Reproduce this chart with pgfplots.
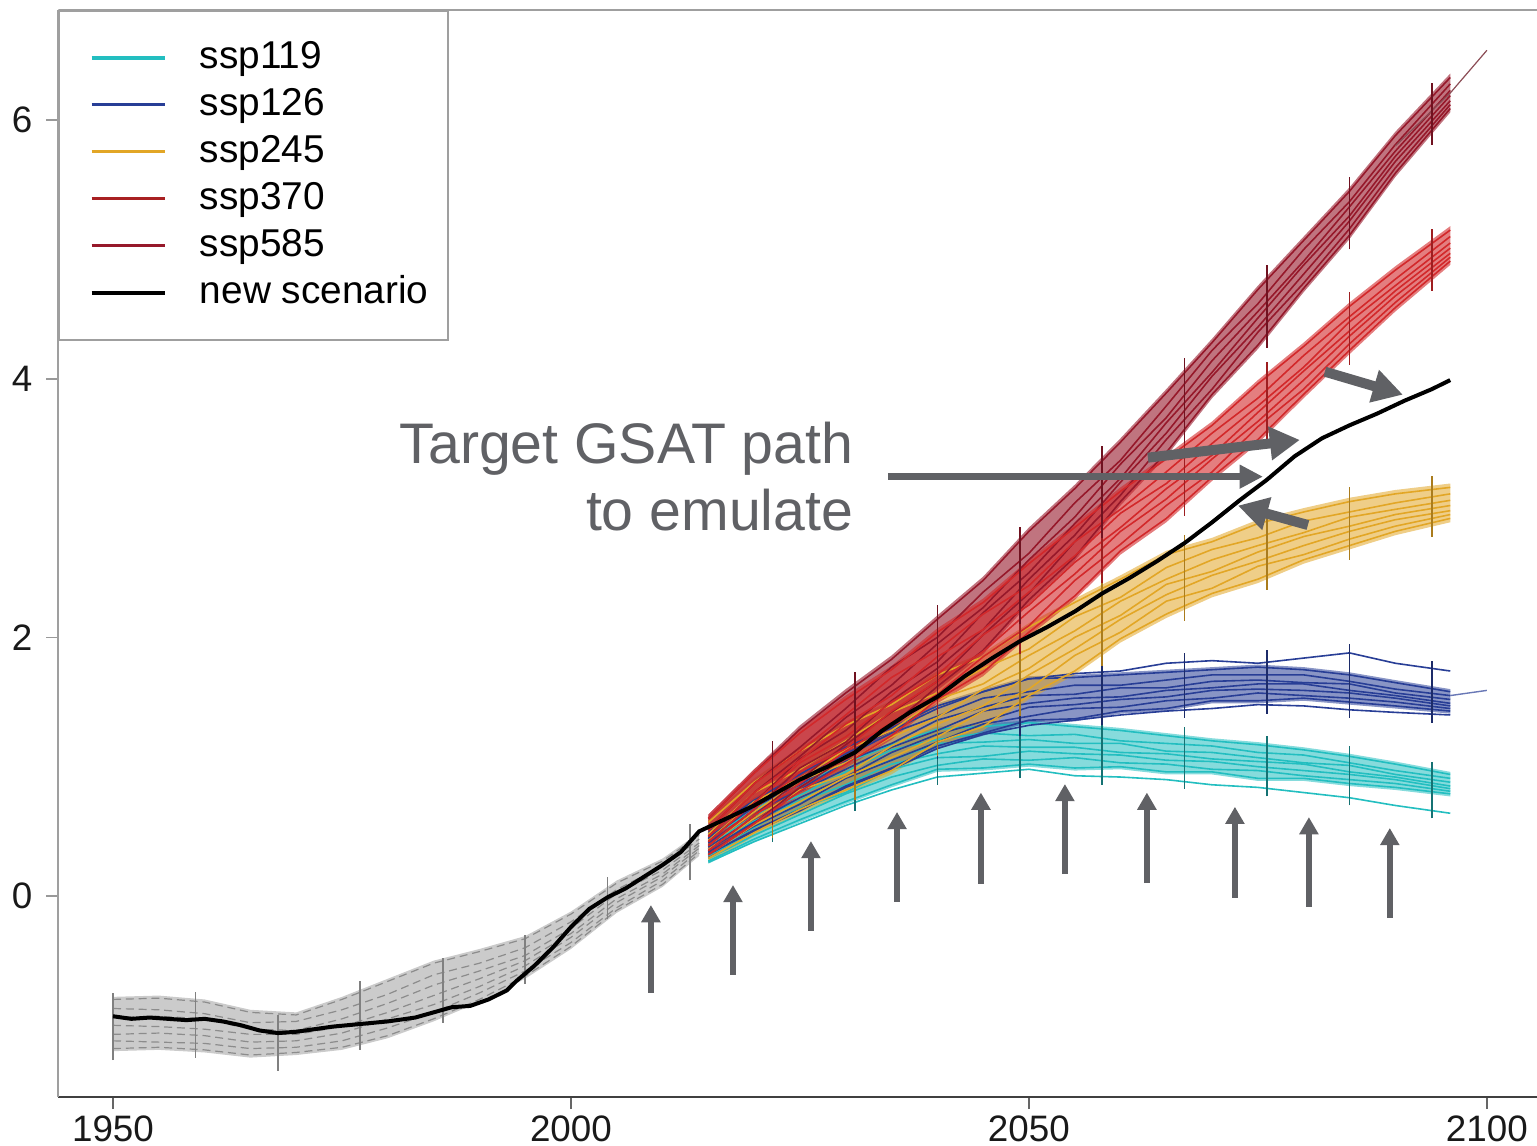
\documentclass[border=0pt]{standalone}
\usepackage{fontspec}
\setmainfont{Liberation Sans}
\usepackage{pgfplots}
\pgfplotsset{compat=1.18}
\usepackage{pgfplotstable}
\usepgfplotslibrary{fillbetween}
\usetikzlibrary{arrows.meta}

\definecolor{c119}{RGB}{35,190,192}
\definecolor{c126}{RGB}{40,62,150}
\definecolor{c245}{RGB}{226,166,38}
\definecolor{c370}{RGB}{210,40,42}
\definecolor{c585}{RGB}{150,24,42}
\definecolor{chist}{RGB}{200,200,200}
\definecolor{annot}{RGB}{96,97,101}

\pgfplotstableread{
yr m1 m2 m3 m4 m5 m6 m7 lo hi
1950 -0.80 -0.87 -0.94 -1.00 -1.07 -1.12 -1.18 -1.20 -0.78
1955 -0.79 -0.88 -0.93 -1.01 -1.06 -1.13 -1.17 -1.19 -0.77
1960 -0.82 -0.91 -0.95 -1.03 -1.08 -1.14 -1.19 -1.21 -0.80
1965 -0.90 -0.98 -1.03 -1.07 -1.13 -1.18 -1.23 -1.25 -0.88
1970 -0.92 -0.97 -1.04 -1.07 -1.12 -1.17 -1.21 -1.23 -0.90
1975 -0.80 -0.88 -0.95 -1.01 -1.06 -1.12 -1.17 -1.19 -0.78
1980 -0.66 -0.76 -0.83 -0.90 -0.95 -1.02 -1.08 -1.10 -0.64
1985 -0.52 -0.61 -0.69 -0.77 -0.84 -0.90 -0.95 -0.97 -0.50
1990 -0.43 -0.52 -0.58 -0.64 -0.70 -0.75 -0.80 -0.82 -0.41
1995 -0.33 -0.40 -0.46 -0.50 -0.54 -0.58 -0.62 -0.64 -0.31
2000 -0.14 -0.20 -0.25 -0.29 -0.32 -0.36 -0.39 -0.41 -0.12
2005 0.10 0.05 0.02 -0.02 -0.05 -0.09 -0.11 -0.13 0.12
2010 0.27 0.23 0.20 0.17 0.15 0.12 0.09 0.07 0.29
2014 0.47 0.44 0.41 0.39 0.37 0.35 0.33 0.31 0.49
}\hist

\pgfplotstableread{
yr m1 m2 m3 m4 m5 m6 m7 lo hi b
2015 0.44 0.39 0.36 0.33 0.31 0.29 0.27 0.25 0.46 0.26
2020 0.67 0.62 0.58 0.53 0.50 0.47 0.44 0.42 0.69 0.42
2025 0.86 0.78 0.74 0.73 0.68 0.63 0.59 0.57 0.88 0.56
2030 1.03 0.96 0.92 0.86 0.80 0.79 0.73 0.71 1.05 0.70
2035 1.17 1.13 1.05 1.02 0.98 0.92 0.86 0.84 1.19 0.82
2040 1.29 1.21 1.18 1.10 1.07 1.01 0.98 0.96 1.31 0.92
2045 1.31 1.26 1.19 1.16 1.08 1.06 0.99 0.97 1.33 0.95
2050 1.34 1.24 1.21 1.15 1.12 1.05 1.02 1.00 1.36 0.98
2055 1.31 1.25 1.18 1.15 1.10 1.07 0.99 0.97 1.33 0.93
2060 1.28 1.20 1.18 1.11 1.09 1.03 1.00 0.98 1.30 0.92
2065 1.24 1.18 1.12 1.10 1.05 1.02 0.96 0.94 1.26 0.90
2070 1.20 1.16 1.11 1.06 1.04 0.98 0.96 0.94 1.22 0.86
2075 1.17 1.11 1.07 1.04 1.00 0.97 0.91 0.89 1.19 0.84
2080 1.13 1.09 1.03 1.02 0.97 0.93 0.91 0.89 1.15 0.80
2085 1.08 1.03 1.01 0.96 0.94 0.90 0.87 0.85 1.10 0.76
2090 1.02 0.97 0.94 0.92 0.90 0.87 0.84 0.82 1.04 0.70
2096 0.94 0.91 0.88 0.85 0.83 0.81 0.79 0.77 0.96 0.64
}\sspA

\pgfplotstableread{
yr m1 m2 m3 m4 m5 m6 m7 lo hi t b
2015 0.49 0.44 0.41 0.38 0.36 0.34 0.32 0.30 0.51 0.45 0.33
2020 0.74 0.69 0.65 0.60 0.57 0.54 0.51 0.49 0.76 0.70 0.50
2025 0.94 0.86 0.82 0.81 0.76 0.71 0.67 0.65 0.96 0.90 0.66
2030 1.15 1.08 1.04 0.98 0.92 0.91 0.85 0.83 1.17 1.10 0.84
2035 1.30 1.26 1.18 1.15 1.11 1.05 0.99 0.97 1.32 1.28 0.98
2040 1.47 1.39 1.36 1.28 1.25 1.19 1.16 1.14 1.49 1.45 1.14
2045 1.58 1.53 1.46 1.43 1.35 1.33 1.26 1.24 1.60 1.58 1.25
2050 1.68 1.58 1.55 1.49 1.46 1.39 1.36 1.34 1.70 1.68 1.32
2055 1.69 1.63 1.56 1.53 1.48 1.45 1.37 1.35 1.71 1.72 1.36
2060 1.71 1.63 1.61 1.54 1.52 1.46 1.43 1.41 1.73 1.74 1.40
2065 1.73 1.67 1.61 1.59 1.54 1.51 1.45 1.43 1.75 1.80 1.43
2070 1.75 1.71 1.66 1.61 1.59 1.53 1.51 1.49 1.77 1.82 1.45
2075 1.77 1.71 1.67 1.64 1.60 1.57 1.51 1.49 1.79 1.80 1.48
2080 1.75 1.71 1.65 1.64 1.59 1.55 1.53 1.51 1.77 1.84 1.47
2085 1.71 1.66 1.64 1.59 1.57 1.53 1.50 1.48 1.73 1.88 1.44
2090 1.65 1.60 1.57 1.55 1.53 1.50 1.47 1.45 1.67 1.80 1.42
2096 1.58 1.55 1.52 1.49 1.47 1.45 1.43 1.41 1.60 1.74 1.40
}\sspB

\pgfplotstableread{
yr m1 m2 m3 m4 m5 m6 m7 lo hi
2015 0.57 0.48 0.43 0.39 0.36 0.32 0.29 0.26 0.60
2020 0.88 0.80 0.73 0.65 0.60 0.55 0.49 0.46 0.91
2025 1.12 0.98 0.91 0.89 0.82 0.73 0.67 0.64 1.15
2030 1.32 1.20 1.13 1.03 0.94 0.92 0.82 0.79 1.35
2035 1.48 1.42 1.28 1.23 1.16 1.07 0.97 0.94 1.51
2040 1.71 1.57 1.52 1.38 1.33 1.23 1.19 1.16 1.74
2045 1.85 1.76 1.64 1.60 1.47 1.43 1.31 1.28 1.88
2050 2.08 1.91 1.86 1.76 1.71 1.60 1.55 1.52 2.11
2055 2.27 2.16 2.05 2.00 1.91 1.86 1.74 1.71 2.30
2060 2.45 2.31 2.28 2.17 2.14 2.04 1.99 1.96 2.48
2065 2.64 2.54 2.45 2.41 2.33 2.28 2.18 2.15 2.67
2070 2.74 2.68 2.60 2.51 2.48 2.38 2.34 2.31 2.77
2075 2.88 2.77 2.71 2.66 2.59 2.55 2.45 2.42 2.91
2080 2.97 2.90 2.81 2.78 2.71 2.64 2.60 2.57 3.00
2085 3.05 2.97 2.93 2.86 2.82 2.76 2.71 2.68 3.08
2090 3.11 3.04 2.99 2.95 2.91 2.86 2.82 2.79 3.14
2096 3.16 3.11 3.06 3.02 2.98 2.95 2.92 2.89 3.19
}\sspC

\pgfplotstableread{
yr m1 m2 m3 m4 m5 m6 m7 lo hi
2015 0.60 0.51 0.46 0.42 0.39 0.35 0.32 0.29 0.63
2020 0.95 0.87 0.80 0.72 0.67 0.62 0.56 0.53 0.98
2025 1.26 1.12 1.05 1.03 0.96 0.87 0.81 0.78 1.29
2030 1.52 1.40 1.33 1.23 1.14 1.12 1.02 0.99 1.55
2035 1.75 1.69 1.55 1.50 1.43 1.34 1.24 1.21 1.78
2040 2.04 1.90 1.85 1.71 1.66 1.56 1.52 1.49 2.07
2045 2.27 2.18 2.06 2.02 1.89 1.85 1.73 1.70 2.30
2050 2.57 2.40 2.35 2.25 2.20 2.09 2.04 2.01 2.60
2055 2.85 2.74 2.63 2.58 2.49 2.44 2.32 2.29 2.88
2060 3.13 2.99 2.96 2.85 2.82 2.72 2.67 2.64 3.16
2065 3.38 3.28 3.19 3.15 3.07 3.02 2.92 2.89 3.41
2070 3.64 3.58 3.50 3.41 3.38 3.28 3.24 3.21 3.67
2075 3.96 3.85 3.79 3.74 3.67 3.63 3.53 3.50 3.99
2080 4.25 4.18 4.09 4.06 3.99 3.92 3.88 3.85 4.28
2085 4.56 4.48 4.44 4.37 4.33 4.27 4.22 4.19 4.59
2090 4.84 4.77 4.72 4.68 4.64 4.59 4.55 4.52 4.87
2096 5.15 5.10 5.05 5.01 4.97 4.94 4.91 4.88 5.18
}\sspD

\pgfplotstableread{
yr m1 m2 m3 m4 m5 m6 m7 lo hi
2015 0.60 0.51 0.46 0.42 0.39 0.35 0.32 0.29 0.63
2020 0.95 0.87 0.80 0.72 0.67 0.62 0.56 0.53 0.98
2025 1.29 1.15 1.08 1.06 0.99 0.90 0.84 0.81 1.32
2030 1.57 1.45 1.38 1.28 1.19 1.17 1.07 1.04 1.60
2035 1.83 1.77 1.63 1.58 1.51 1.42 1.32 1.29 1.86
2040 2.14 2.00 1.95 1.81 1.76 1.66 1.62 1.59 2.17
2045 2.44 2.35 2.23 2.19 2.06 2.02 1.90 1.87 2.47
2050 2.82 2.65 2.60 2.50 2.45 2.34 2.29 2.26 2.85
2055 3.15 3.04 2.93 2.88 2.79 2.74 2.62 2.59 3.18
2060 3.51 3.37 3.34 3.23 3.20 3.10 3.05 3.02 3.54
2065 3.89 3.79 3.70 3.66 3.58 3.53 3.43 3.40 3.92
2070 4.28 4.22 4.14 4.05 4.02 3.92 3.88 3.85 4.31
2075 4.69 4.58 4.52 4.47 4.40 4.36 4.26 4.23 4.72
2080 5.07 5.00 4.91 4.88 4.81 4.74 4.70 4.67 5.10
2085 5.45 5.37 5.33 5.26 5.22 5.16 5.11 5.08 5.48
2090 5.88 5.81 5.76 5.72 5.68 5.63 5.59 5.56 5.91
2096 6.33 6.28 6.23 6.19 6.15 6.12 6.09 6.06 6.36
}\sspE

\begin{document}
\begin{tikzpicture}
\begin{axis}[
  name=ax, scale only axis, width=370.6pt, height=271.75pt,
  xmin=1944.05, xmax=2105.9, ymin=-1.5545, ymax=6.852,
  axis lines*=left,
  x axis line style={draw=black!75, line width=0.6pt},
  y axis line style={draw=gray!75, line width=0.5pt},
  xtick={1950,2000,2050,2100}, ytick={0,2,4,6},
  tick align=outside, major tick length=3pt,
  xtick style={draw=black!60, line width=0.4pt},
  ytick style={draw=gray!80, line width=0.4pt},
  /pgf/number format/1000 sep={},
  /pgf/number format/assume math mode=true,
  tick label style={font=\fontsize{9.2}{11}\selectfont, text=black!90},
  xticklabel style={yshift=1.9pt},
  unbounded coords=jump,
  legend cell align=left,
  legend style={at={(0,1)}, anchor=north west, draw=gray!75, line width=0.5pt, fill=white,
     inner xsep=4.75pt, inner ysep=7.6pt, row sep=3.45pt, column sep=8.25pt,
     font=\fontsize{9.7}{11}\selectfont,
     nodes={inner sep=0pt}},
  legend image code/.code={\path (0pt,0pt); \draw[#1] (2.75pt,0pt) -- (21pt,0pt);},
]
\addlegendimage{c119, line width=0.8pt}\addlegendentry{ssp119}
\addlegendimage{c126, line width=0.8pt}\addlegendentry{ssp126}
\addlegendimage{c245, line width=0.8pt}\addlegendentry{ssp245}
\addlegendimage{c370!80!black, line width=0.8pt}\addlegendentry{ssp370}
\addlegendimage{c585, line width=0.8pt}\addlegendentry{ssp585}
\addlegendimage{black, line width=1.1pt}\addlegendentry{new scenario}

% historical
\addplot[name path=hlo, draw=none, forget plot] table[x=yr,y=lo]{\hist};
\addplot[name path=hhi, draw=none, forget plot] table[x=yr,y=hi]{\hist};
\addplot[chist, fill opacity=0.95, forget plot] fill between[of=hlo and hhi];
\pgfplotsinvokeforeach{m1,m2,m3,m4,m5,m6,m7}{
  \addplot[black!45, line width=0.3pt, dash pattern=on 2pt off 1.2pt, forget plot] table[x=yr,y=#1]{\hist};
}

% ssp119
\addplot[name path=alo, draw=none, forget plot] table[x=yr,y=lo]{\sspA};
\addplot[name path=ahi, draw=none, forget plot] table[x=yr,y=hi]{\sspA};
\addplot[c119, fill opacity=0.55, forget plot] fill between[of=alo and ahi];
\pgfplotsinvokeforeach{m1,m2,m3,m4,m5,m6,m7,b}{
  \addplot[c119, line width=0.4pt, forget plot] table[x=yr,y=#1]{\sspA};
}
% ssp126
\addplot[name path=blo, draw=none, forget plot] table[x=yr,y=lo]{\sspB};
\addplot[name path=bhi, draw=none, forget plot] table[x=yr,y=hi]{\sspB};
\addplot[c126, fill opacity=0.55, forget plot] fill between[of=blo and bhi];
\pgfplotsinvokeforeach{m1,m2,m3,m4,m5,m6,m7,t,b}{
  \addplot[c126, line width=0.4pt, forget plot] table[x=yr,y=#1]{\sspB};
}
\addplot[c126!70, line width=0.35pt, forget plot] coordinates {(2096,1.55) (2100,1.59)};
% ssp245
\addplot[name path=clo, draw=none, forget plot] table[x=yr,y=lo]{\sspC};
\addplot[name path=chi, draw=none, forget plot] table[x=yr,y=hi]{\sspC};
\addplot[c245, fill opacity=0.55, forget plot] fill between[of=clo and chi];
\pgfplotsinvokeforeach{m1,m2,m3,m4,m5,m6,m7}{
  \addplot[c245, line width=0.4pt, forget plot] table[x=yr,y=#1]{\sspC};
}
% ssp585
\addplot[name path=elo, draw=none, forget plot] table[x=yr,y=lo]{\sspE};
\addplot[name path=ehi, draw=none, forget plot] table[x=yr,y=hi]{\sspE};
\addplot[c585, fill opacity=0.6, forget plot] fill between[of=elo and ehi];
\pgfplotsinvokeforeach{m1,m2,m3,m4,m5,m6,m7}{
  \addplot[c585, line width=0.4pt, forget plot] table[x=yr,y=#1]{\sspE};
}
\addplot[c585!50!gray, line width=0.3pt, forget plot] coordinates {(2090,5.80) (2096,6.21) (2100,6.54)};
% ssp370
\addplot[name path=dlo, draw=none, forget plot] table[x=yr,y=lo]{\sspD};
\addplot[name path=dhi, draw=none, forget plot] table[x=yr,y=hi]{\sspD};
\addplot[c370, fill opacity=0.6, forget plot] fill between[of=dlo and dhi];
\pgfplotsinvokeforeach{m1,m2,m3,m4,m5,m6,m7}{
  \addplot[c370, line width=0.4pt, forget plot] table[x=yr,y=#1]{\sspD};
}

% vertical markers
\addplot[gray, line width=0.4pt, forget plot] coordinates {
(1950,-1.27)(1950,-0.75)(1950,nan)(1959,-1.25)(1959,-0.74)(1959,nan)
(1968,-1.35)(1968,-0.92)(1968,nan)(1977,-1.19)(1977,-0.66)(1977,nan)
(1986,-0.98)(1986,-0.48)(1986,nan)(1995,-0.68)(1995,-0.30)(1995,nan)
(2004,-0.18)(2004,0.15)(2004,nan)(2013,0.12)(2013,0.56)};
\addplot[c119!60!black, line width=0.4pt, forget plot] coordinates {
(2022,0.42)(2022,0.83)(2022,nan)(2031,0.66)(2031,1.14)(2031,nan)
(2040,0.86)(2040,1.37)(2040,nan)(2049,0.91)(2049,1.42)(2049,nan)
(2058,0.86)(2058,1.38)(2058,nan)(2067,0.83)(2067,1.31)(2067,nan)
(2076,0.77)(2076,1.24)(2076,nan)(2085,0.70)(2085,1.16)(2085,nan)
(2094,0.60)(2094,1.04)};
\addplot[c126!70!black, line width=0.4pt, forget plot] coordinates {
(2022,0.45)(2022,0.88)(2022,nan)(2031,0.80)(2031,1.25)(2031,nan)
(2040,1.06)(2040,1.53)(2040,nan)(2049,1.24)(2049,1.76)(2049,nan)
(2058,1.32)(2058,1.82)(2058,nan)(2067,1.38)(2067,1.88)(2067,nan)
(2076,1.41)(2076,1.90)(2076,nan)(2085,1.38)(2085,1.95)(2085,nan)
(2094,1.34)(2094,1.82)};
\addplot[c245!75!black, line width=0.4pt, forget plot] coordinates {
(2022,0.45)(2022,1.09)(2022,nan)(2031,0.74)(2031,1.46)(2031,nan)
(2040,1.08)(2040,1.82)(2040,nan)(2049,1.39)(2049,2.14)(2049,nan)
(2058,1.78)(2058,2.49)(2058,nan)(2067,2.13)(2067,2.79)(2067,nan)
(2076,2.37)(2076,3.01)(2076,nan)(2085,2.60)(2085,3.16)(2085,nan)
(2094,2.78)(2094,3.25)};
\addplot[c370!75!black, line width=0.4pt, forget plot] coordinates {
(2022,0.55)(2022,1.18)(2022,nan)(2031,0.95)(2031,1.68)(2031,nan)
(2040,1.41)(2040,2.15)(2040,nan)(2049,1.87)(2049,2.62)(2049,nan)
(2058,2.42)(2058,3.13)(2058,nan)(2067,2.94)(2067,3.59)(2067,nan)
(2076,3.49)(2076,4.13)(2076,nan)(2085,4.11)(2085,4.67)(2085,nan)
(2094,4.68)(2094,5.16)};
\addplot[c585!75!black, line width=0.4pt, forget plot] coordinates {
(2022,0.56)(2022,1.20)(2022,nan)(2031,1.01)(2031,1.73)(2031,nan)
(2040,1.51)(2040,2.25)(2040,nan)(2049,2.10)(2049,2.85)(2049,nan)
(2058,2.77)(2058,3.48)(2058,nan)(2067,3.50)(2067,4.16)(2067,nan)
(2076,4.24)(2076,4.88)(2076,nan)(2085,5.00)(2085,5.56)(2085,nan)
(2094,5.81)(2094,6.29)};

% new scenario
\addplot[black, line width=1pt, forget plot] coordinates {
(1950,-0.93)(1952,-0.95)(1954,-0.94)(1956,-0.95)(1958,-0.96)(1960,-0.95)(1962,-0.97)
(1964,-1.00)(1966,-1.04)(1968,-1.06)(1970,-1.05)(1972,-1.03)(1974,-1.01)(1977,-0.99)
(1980,-0.97)(1983,-0.94)(1985,-0.90)(1987,-0.86)(1989,-0.85)(1991,-0.80)(1993,-0.73)
(1994,-0.66)(1996,-0.54)(1998,-0.40)(2000,-0.24)(2002,-0.10)(2004,-0.01)(2006,0.06)
(2008,0.15)(2010,0.24)(2012,0.34)(2014,0.50)(2017,0.60)(2020,0.70)(2022,0.78)(2025,0.90)
(2028,1.00)(2031,1.11)(2034,1.28)(2037,1.42)(2040,1.54)(2043,1.70)(2046,1.84)(2049,1.97)
(2052,2.08)(2055,2.20)(2058,2.34)(2061,2.46)(2064,2.59)(2067,2.73)(2070,2.89)(2073,3.06)
(2076,3.22)(2079,3.40)(2082,3.54)(2085,3.64)(2088,3.73)(2091,3.83)(2094,3.92)(2096,3.99)};

% top frame line
\draw[gray!75, line width=0.5pt] (rel axis cs:0,1) -- (rel axis cs:1,1);

% annotation arrows
\begin{scope}[annot]
\foreach \x/\a/\b in {2008.73/-0.75/-0.07, 2017.69/-0.61/0.085, 2026.2/-0.27/0.425,
  2035.6/-0.046/0.65, 2044.76/0.093/0.80, 2053.93/0.17/0.866, 2062.88/0.10/0.80,
  2072.49/-0.015/0.69, 2080.57/-0.085/0.61, 2089.4/-0.17/0.526}{
  \edef\tmp{\noexpand\draw[line width=1.5pt, -{Triangle[width=4.6pt,length=4.3pt]}] (axis cs:\x,\a) -- (axis cs:\x,\b);}\tmp
}
\draw[line width=1.75pt, -{Triangle[width=5.6pt,length=5.8pt]}] (axis cs:2034.61,3.243) -- (axis cs:2075.55,3.243);
\draw[line width=2.5pt, -{Triangle[width=8pt,length=7.5pt]}] (axis cs:2062.99,3.390) -- (axis cs:2079.58,3.527);
\draw[line width=2.5pt, -{Triangle[width=8pt,length=7.5pt]}] (axis cs:2080.46,2.869) -- (axis cs:2072.82,3.019);
\draw[line width=2.5pt, -{Triangle[width=8pt,length=7.5pt]}] (axis cs:2082.31,4.055) -- (axis cs:2090.83,3.877);
\node[anchor=base east, inner sep=0pt, font=\fontsize{14.3}{17}\selectfont, text=annot] at (axis cs:2030.9,3.345) {Target GSAT path};
\node[anchor=base east, inner sep=0pt, font=\fontsize{14.3}{17}\selectfont, text=annot] at (axis cs:2030.9,2.825) {to emulate};
\end{scope}
\end{axis}
\pgfresetboundingbox
\path (ax.south west) ++(-14.625pt,-12pt) rectangle ++(384.25pt,286.25pt);
\end{tikzpicture}
\end{document}
